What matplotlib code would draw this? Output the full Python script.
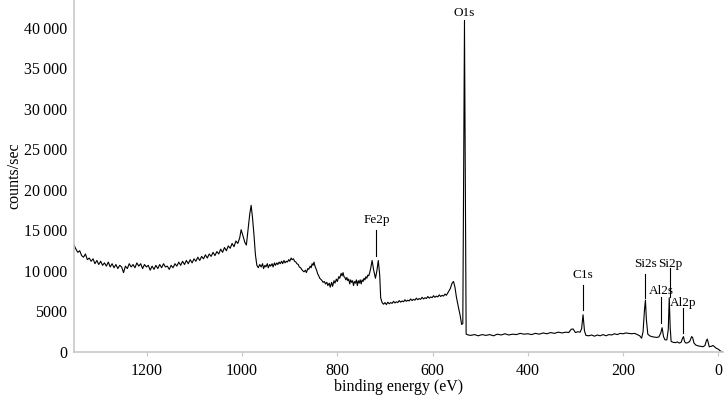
import matplotlib
matplotlib.use("Agg")
import matplotlib.pyplot as plt
from matplotlib.ticker import FuncFormatter, MultipleLocator

#-----------------------------------#
# survey spectrum, in pieces (binding energy eV / counts per sec)
be_high = [
    1353, 1349, 1345, 1341, 1337, 1333, 1329, 1325, 1321, 1317, 1313, 1309, 1305, 1301,
    1297, 1293, 1289, 1285, 1281, 1277, 1273, 1269, 1265, 1261, 1257, 1253, 1249, 1245,
    1241, 1237, 1233, 1229, 1225, 1221, 1217, 1213, 1209, 1205, 1201, 1197, 1193, 1189,
    1185, 1181, 1177, 1173, 1169, 1165, 1161, 1157, 1153, 1149, 1145, 1141, 1137, 1133,
    1129, 1125, 1121, 1117, 1113, 1109, 1105, 1101, 1097, 1093, 1089, 1085, 1081, 1077,
    1073, 1069, 1065, 1061, 1057, 1053, 1049, 1045, 1041, 1037, 1033, 1029, 1025, 1021,
    1017, 1013, 1009, 1005, 1002, 998, 994, 991, 988, 984, 981, 978, 975, 972, 969,
]
counts_high = [
    13200, 12700, 12300, 12500, 11900, 11700, 12100, 11400, 11600, 11200, 11500, 10900, 11300, 10800,
    11200, 10700, 11000, 10600, 11100, 10500, 10900, 10400, 10800, 10300, 10700, 10500, 9800, 10600,
    10300, 10900, 10500, 10800, 10400, 11000, 10600, 10900, 10300, 10800, 10500, 10700, 10100, 10600,
    10200, 10700, 10300, 10800, 10400, 10900, 10500, 10600, 10200, 10700, 10400, 10900, 10600, 11100,
    10700, 11200, 10800, 11300, 10900, 11400, 11000, 11500, 11200, 11700, 11300, 11800, 11500, 12000,
    11600, 12100, 11800, 12300, 11900, 12400, 12100, 12700, 12300, 12900, 12500, 13100, 12800, 13400,
    13000, 13700, 13400, 14100, 15100, 14300, 13500, 13200, 14800, 17000, 18100, 16500, 14400, 12000, 10700,
]

be_fe = [
    966, 963, 960, 957, 955, 952, 950, 947, 945, 942, 940, 937, 935, 932, 930, 927, 925, 922,
    920, 917, 915, 912, 910, 907, 905, 902, 900, 897, 895, 892, 890, 887, 885, 882, 880, 877,
    875, 872, 870, 867, 865, 862, 860, 857, 855, 853, 851, 849, 847, 845, 843, 841, 839, 837,
    835, 832, 830, 827, 825, 822, 820, 817, 815, 812, 810, 807, 805, 802, 800, 797, 795, 792,
    790, 788, 786, 784, 782, 780, 778, 776, 774, 772, 770, 768, 766, 764, 762, 760, 758, 756,
    754, 752, 750, 748, 746, 744, 742, 740, 738, 736, 734, 732, 730, 727, 724, 720, 717, 714,
    711, 709, 706,
]
counts_fe = [
    10400, 10800, 10500, 10900, 10300, 10700, 10500, 10900, 10400, 10800, 10600, 10900, 10500, 11000,
    10700, 11000, 10800, 11100, 10900, 11200, 10900, 11300, 11000, 11200, 11100, 11400, 11200, 11600,
    11400, 11500, 11200, 11100, 10900, 10800, 10500, 10400, 10200, 10000, 9900, 10100, 9800, 10300,
    10200, 10600, 10400, 10900, 10700, 11100, 10600, 10300, 10000, 9600, 9400, 9100, 9000, 8800,
    8600, 8700, 8400, 8600, 8200, 8500, 8000, 8600, 8100, 8800, 8500, 9000, 8700, 9300, 9100, 9700,
    9400, 9800, 9300, 9200, 8900, 9200, 8800, 9000, 8400, 8900, 8600, 8800, 8200, 8700, 8500, 8900,
    8200, 8800, 8500, 8900, 8400, 8900, 8700, 9100, 8900, 9300, 9100, 9500, 9400, 9800, 10300, 11300,
    10200, 9100, 10000, 11300, 9500, 6700, 6100,
]

be_o = [
    703, 700, 697, 694, 691, 688, 685, 682, 679, 676, 673, 670, 667, 664, 661, 658, 655, 652,
    649, 646, 643, 640, 637, 634, 631, 628, 625, 622, 619, 616, 613, 610, 607, 604, 601, 598,
    595, 592, 589, 586, 583, 580, 577, 574, 571, 568, 563, 559, 556, 553, 550, 546, 542, 539,
    536.5, 533, 529.5,
]
counts_o = [
    5900, 6100, 5850, 6150, 5950, 6100, 6000, 6250, 6050, 6200, 6100, 6350, 6150, 6300, 6200, 6450,
    6250, 6400, 6300, 6550, 6350, 6500, 6400, 6650, 6450, 6600, 6500, 6750, 6550, 6700, 6600, 6850,
    6650, 6800, 6700, 6950, 6750, 6900, 6800, 7050, 6850, 7000, 6900, 7150, 7000, 7300, 7800, 8500,
    8700, 8000, 6800, 5600, 4500, 3400, 3500, 40600, 2200,
]

be_low = [
    525, 520, 512, 504, 496, 488, 480, 472, 464, 456, 448, 440, 432, 424, 416, 408,
    400, 392, 384, 376, 368, 360, 352, 344, 336, 328, 320, 314, 309, 305, 300, 295, 290,
    287, 284, 281, 278, 272, 266, 260, 254, 248, 242, 236, 230, 224, 218, 212, 206, 200,
    194, 188, 182, 176, 170, 165, 161, 158, 155, 153, 151, 148, 144, 140, 135, 130, 125,
    121, 118, 115, 112, 108, 105, 103, 101, 99, 95, 90, 86, 82, 78, 75, 73, 71, 68, 64,
    60, 56, 54, 51, 47, 42, 37, 32, 28, 25, 23, 21, 19, 15, 11, 8, 4, 0, -4, -8,
]
counts_low = [
    2100, 2050, 2150, 2000, 2150, 2050, 2150, 2000, 2200, 2100, 2250, 2100, 2200, 2150, 2300, 2200,
    2250, 2150, 2300, 2200, 2350, 2250, 2400, 2300, 2450, 2350, 2450, 2400, 2800, 2850, 2400, 2500, 2450,
    2900, 4600, 2600, 2050, 2000, 2100, 1950, 2100, 2000, 2150, 2000, 2150, 2100, 2250, 2150, 2300, 2250,
    2350, 2300, 2250, 2300, 2150, 2000, 1700, 2500, 5200, 6400, 4000, 2200, 2000, 1900, 1850, 1800, 1850,
    2300, 3000, 1900, 1500, 1500, 2800, 6700, 3000, 1300, 1200, 1150, 1250, 1100, 1200, 1700, 1900, 1300, 1100, 1150,
    1300, 1900, 1800, 1100, 850, 750, 700, 650, 800, 1400, 1600, 1100, 650, 700, 800, 650, 450, 350, 150, 0,
]

# peak labels: name, energy, text height, marker line from/to
peak_names = ["O1s", "Fe2p", "C1s", "Si2s", "Si2p", "Al2s", "Al2p"]
peak_ev = [533, 718, 283.6, 153.4, 100.8, 119.7, 73.5]
label_y = [41900, 16300, 9500, 10850, 10850, 7550, 6050]
line_top = [41000, 15000, 8250, 9650, 10350, 6800, 5400]
line_bottom = [40600, 11900, 5200, 6700, 6800, 3600, 2350]
#-----------------------------------#

be_ev = be_high + be_fe + be_o + be_low
counts = counts_high + counts_fe + counts_o + counts_low
assert len(be_ev) == len(counts)

plt.rcParams['font.family'] = ['Liberation Serif', 'DejaVu Serif']

fig = plt.figure(figsize=(7.24, 3.97), dpi=100)
ax = fig.add_axes([74 / 724, 45 / 397, 650 / 724, 352 / 397])

ax.plot(be_ev, counts, color='black', linewidth=0.8)

for name, e, ty, lt, lb in zip(peak_names, peak_ev, label_y, line_top, line_bottom):
    ax.plot([e, e], [lb, lt], color='black', linewidth=0.8)
    ax.text(e, ty, name, ha='center', va='center', fontsize=9.5)

ax.set_xlim(1353, -12)
ax.set_ylim(0, 43450)
ax.xaxis.set_major_locator(MultipleLocator(200))
ax.yaxis.set_major_locator(MultipleLocator(5000))


def thousands(v, pos):
    v = int(round(v))
    if v >= 10000:
        return f"{v:,}".replace(",", "\u2009")
    return str(v)


ax.yaxis.set_major_formatter(FuncFormatter(thousands))

for side in ['top', 'right']:
    ax.spines[side].set_visible(False)
for side in ['left', 'bottom']:
    ax.spines[side].set_color('#c8c8c8')
    ax.spines[side].set_linewidth(1.2)

ax.tick_params(axis='x', length=3, color='#c8c8c8', labelsize=11.5, pad=5)
ax.tick_params(axis='y', length=0, labelsize=11.5, pad=5)

ax.set_xlabel('binding energy (eV)', fontsize=11.5, labelpad=0)
ax.set_ylabel('counts/sec', fontsize=11.5, labelpad=1)

fig.savefig('out.png', dpi=100)
